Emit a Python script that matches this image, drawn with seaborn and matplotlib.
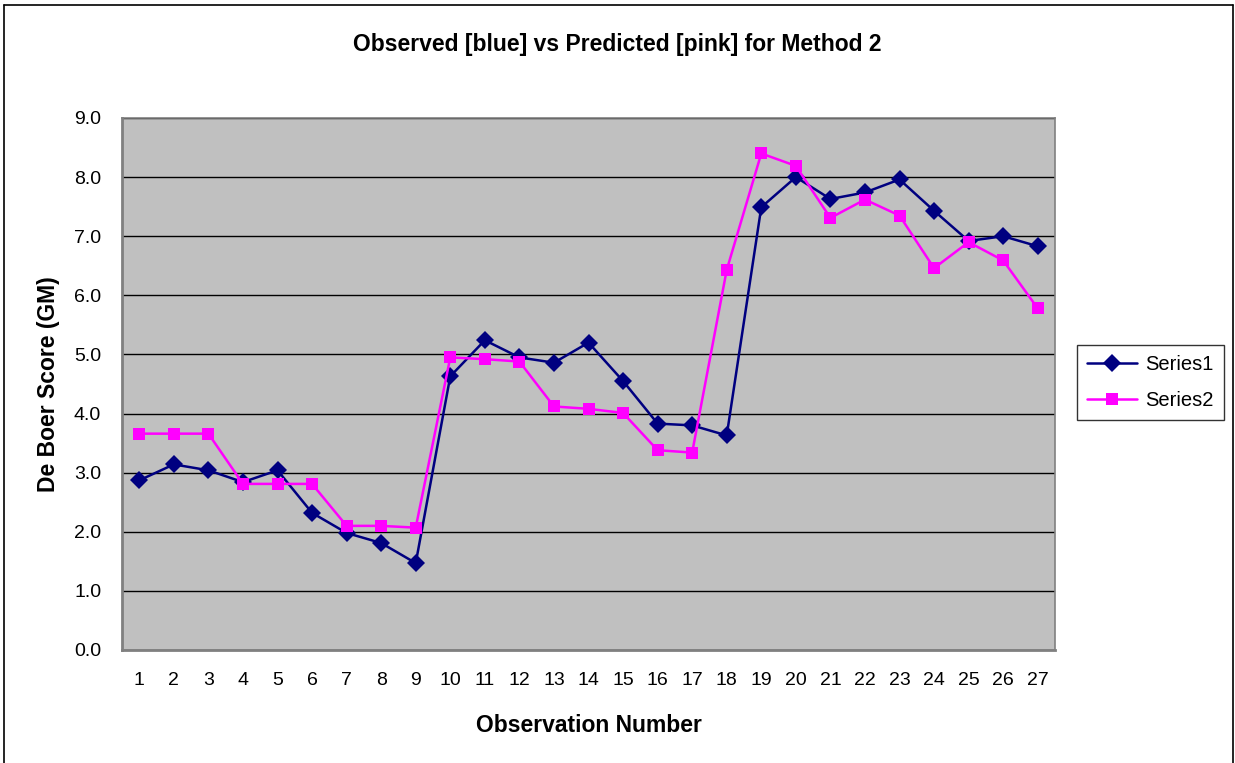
import matplotlib
matplotlib.use("Agg")
import matplotlib.pyplot as plt
import matplotlib.ticker as mticker
import seaborn as sns
import pandas as pd
import numpy as np
from matplotlib.lines import Line2D

observation = list(range(1, 28))
series1 = [2.87, 3.14, 3.04, 2.84, 3.04, 2.32, 1.98, 1.81, 1.47,
           4.63, 5.24, 4.95, 4.86, 5.20, 4.55, 3.83, 3.80, 3.63,
           7.49, 8.00, 7.63, 7.74, 7.96, 7.43, 6.92, 7.00, 6.83]
series2 = [3.66, 3.66, 3.66, 2.81, 2.81, 2.81, 2.10, 2.10, 2.07,
           4.95, 4.92, 4.88, 4.12, 4.08, 4.01, 3.38, 3.34, 6.43,
           8.40, 8.19, 7.31, 7.62, 7.35, 6.46, 6.90, 6.59, 5.78]
series_names = ["Series1", "Series2"]
y_ticks = [0.0, 1.0, 2.0, 3.0, 4.0, 5.0, 6.0, 7.0, 8.0, 9.0]

df = pd.DataFrame({
    "obs": observation * 2,
    "score": series1 + series2,
    "series": [series_names[0]] * len(series1) + [series_names[1]] * len(series2),
})

sns.set_theme(style="white")
plt.rcParams['font.family'] = ['Liberation Sans', 'DejaVu Sans']
plt.rcParams['text.color'] = 'black'
plt.rcParams['axes.labelcolor'] = 'black'
plt.rcParams['xtick.color'] = 'black'
plt.rcParams['ytick.color'] = 'black'

fig = plt.figure(figsize=(12.35, 7.63), dpi=100)
ax = fig.add_axes([122/1235, 1-650/763, (1055-122)/1235, (650-118)/763])

palette = {"Series1": "#000080", "Series2": "#FF00FF"}
markers = {"Series1": "D", "Series2": "s"}
sns.lineplot(data=df, x="obs", y="score", hue="series", style="series",
             palette=palette, markers=markers, dashes=False, markersize=9,
             linewidth=1.8, markeredgewidth=0, ax=ax, legend=False, zorder=3)

ax.set_facecolor("#C0C0C0")
ax.set_xlim(0.5, 27.5)
ax.set_ylim(0, 9)
ax.set_yticks(y_ticks)
ax.yaxis.set_major_formatter(mticker.FormatStrFormatter("%.1f"))
ax.set_xticks(observation)
ax.set_xticklabels([str(o) for o in observation])
ax.set_xticks(np.arange(0.5, 28.0, 1.0), minor=True)
ax.tick_params(axis="x", which="major", length=0, pad=16, labelsize=14, labelcolor="black")
ax.tick_params(axis="x", which="minor", length=6, width=1, color="#606060", direction="out")
ax.tick_params(axis="y", which="major", length=7, width=1, color="#606060", direction="out",
               labelsize=14, labelcolor="black", pad=8)
ax.grid(axis="y", color="black", linewidth=1, zorder=1)
ax.set_axisbelow(True)
for side, sp in ax.spines.items():
    sp.set_visible(True)
    sp.set_color("#808080")
    sp.set_linewidth(1.2)
ax.spines["left"].set_linewidth(2)
ax.spines["bottom"].set_linewidth(2)

ax.set_xlabel("Observation Number", fontsize=16.5, fontweight="bold", labelpad=18, color="black")
ax.set_ylabel("De Boer Score (GM)", fontsize=16.5, fontweight="bold", labelpad=10, color="black")
fig.text(0.5, 1-44/763, "Observed [blue] vs Predicted [pink] for Method 2",
         ha="center", va="center", fontsize=16.5, fontweight="bold", color="black")

handles = [Line2D([0], [0], color=palette[n], marker=markers[n], markersize=9,
                  markeredgewidth=0, linewidth=1.8) for n in series_names]
leg = fig.legend(handles, series_names, loc="upper left",
                 bbox_to_anchor=(1077/1235, 1-345/763), fontsize=14.5,
                 frameon=True, fancybox=False, edgecolor="black",
                 handlelength=2.5, borderpad=0.5, labelspacing=0.85,
                 borderaxespad=0, handletextpad=0.4)
leg.get_frame().set_linewidth(1)
for t in leg.get_texts():
    t.set_color("black")

# outer chart border
fig.add_artist(Line2D([4/1235, 4/1235], [0, 1-5/763], color="black", linewidth=1.2,
                      transform=fig.transFigure))
fig.add_artist(Line2D([4/1235, 1233/1235], [1-5/763, 1-5/763], color="black", linewidth=1.2,
                      transform=fig.transFigure))
fig.add_artist(Line2D([1233/1235, 1233/1235], [0, 1-5/763], color="black", linewidth=1.2,
                      transform=fig.transFigure))

fig.savefig("out.png", dpi=100, facecolor="white")
